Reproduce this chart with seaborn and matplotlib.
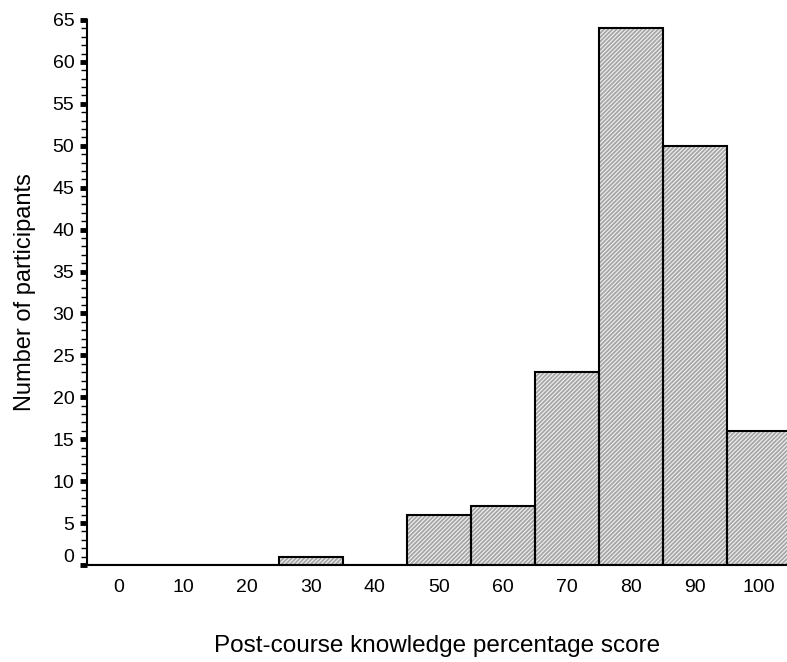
import matplotlib
matplotlib.use("Agg")
import matplotlib.pyplot as plt
import matplotlib.transforms as mtransforms
from matplotlib.ticker import MultipleLocator
import seaborn as sns
import pandas as pd

# Post-course knowledge score bins (bin centres, percent) and participant counts
score_bins = [0, 10, 20, 30, 40, 50, 60, 70, 80, 90, 100]
participants = [0, 0, 0, 1, 0, 6, 7, 23, 64, 50, 16]
y_ticks = list(range(0, 70, 5))

df = pd.DataFrame({"score": score_bins, "count": participants})

sns.set_style("white")
plt.rcParams["font.family"] = ["Liberation Sans", "DejaVu Sans"]
plt.rcParams["hatch.linewidth"] = 1.3
for key in ["text.color", "axes.labelcolor", "xtick.color", "ytick.color"]:
    plt.rcParams[key] = "black"

fig = plt.figure(figsize=(7.87, 6.62), dpi=100)
ax = fig.add_axes([0.1105, 0.1465, 0.8895, 0.8233])

hist_kw = dict(data=df, x="score", weights="count",
               binwidth=10, binrange=(-5, 105), ax=ax)

# hatched fill (hatch takes the edge colour, so outline is drawn separately)
sns.histplot(color="#f2f2f2", edgecolor="#a6a6a6", linewidth=0,
             alpha=1.0, hatch="////////", **hist_kw)
# black bar outlines on top
sns.histplot(fill=False, element="bars", color="black", linewidth=1.5,
             **hist_kw)

ax.set_xlim(-5, 104.4)
ax.set_ylim(0, 65)

ax.set_xticks(score_bins)
ax.set_xticklabels([str(s) for s in score_bins], fontsize=14)
ax.set_yticks(y_ticks)
ax.set_yticklabels([str(t) for t in y_ticks], fontsize=14)
ax.yaxis.set_minor_locator(MultipleLocator(1))

ax.tick_params(axis="x", which="both", length=0, pad=10)
ax.tick_params(axis="y", which="major", length=5, width=3.5, direction="out",
               pad=4, left=True, color="black")
ax.tick_params(axis="y", which="minor", length=4, width=1, direction="out",
               left=True, color="black")

# lift the "0" label clear of the baseline
zero_label = ax.get_yticklabels()[0]
zero_label.set_transform(zero_label.get_transform() +
                         mtransforms.ScaledTranslation(0, 10 / 100, fig.dpi_scale_trans))

for side in ["top", "right"]:
    ax.spines[side].set_visible(False)
for side in ["left", "bottom"]:
    ax.spines[side].set_color("black")
    ax.spines[side].set_linewidth(1.5)

ax.set_xlabel("Post-course knowledge percentage score", fontsize=17.5, labelpad=28)
ax.set_ylabel("Number of participants", fontsize=17, labelpad=12)

fig.savefig("out.png", dpi=100, facecolor="white")
